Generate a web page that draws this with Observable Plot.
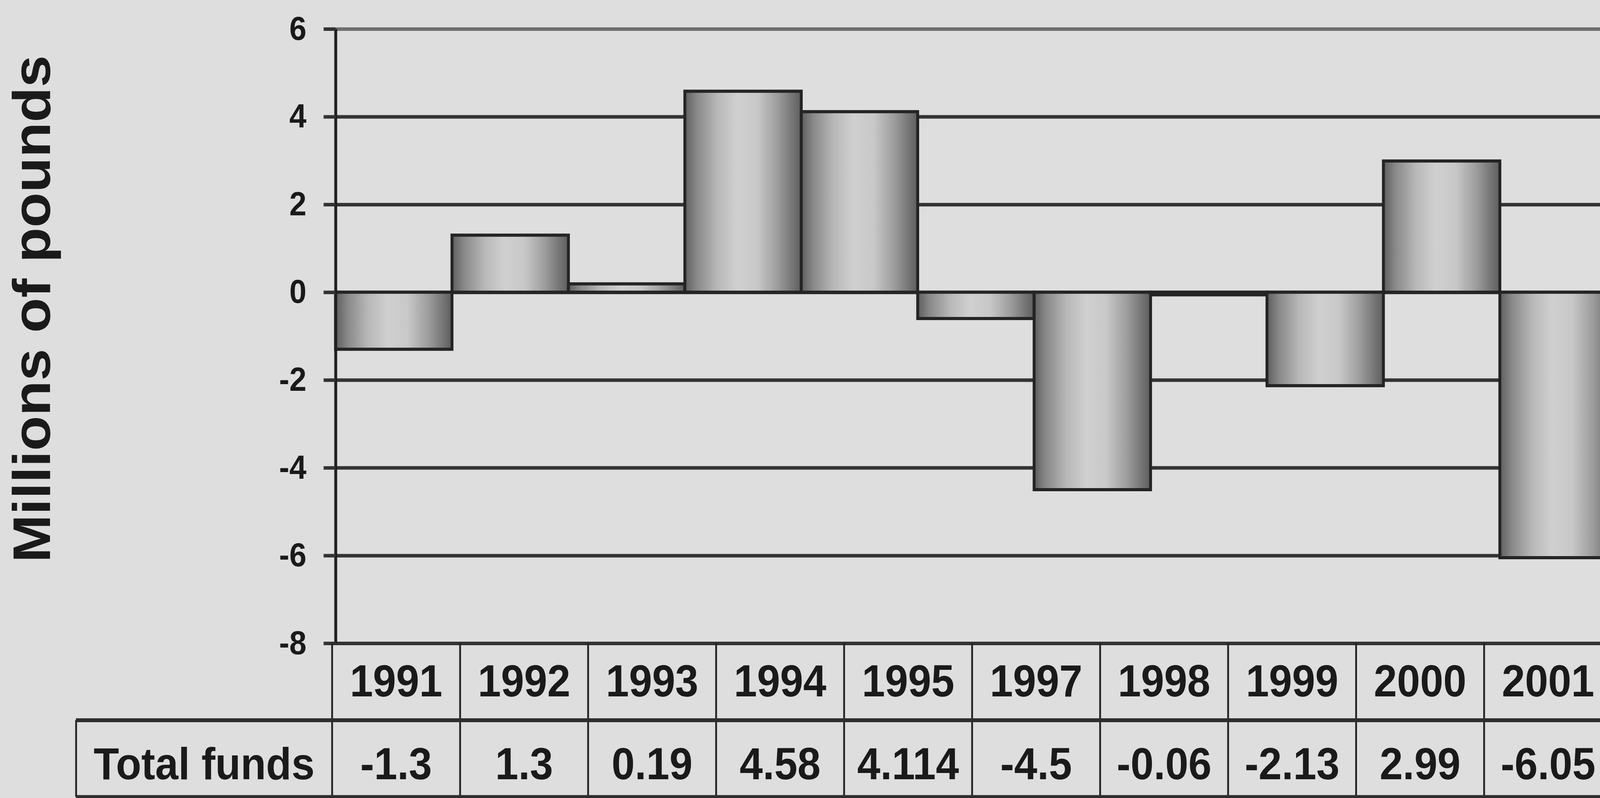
<!DOCTYPE html>
<html>
<head>
<meta charset="utf-8">
<script src="https://cdn.jsdelivr.net/npm/d3@7"></script>
<script src="https://cdn.jsdelivr.net/npm/@observablehq/plot@0.6"></script>
<style>
  html, body { margin: 0; padding: 0; background: #dedede; overflow: hidden; width: 100%; height: 100%; }
  #wrap { position: absolute; left: 0; top: 0; width: 4425px; height: 2042px; overflow: hidden; transform-origin: 0 0; }
  #chart { position: absolute; left: 0; top: 0; }
  #table { position: absolute; left: 0; top: 1646px; }
  svg { max-width: none !important; display: block; }
</style>
</head>
<body>
<div id="wrap"><div id="chart"></div><div id="table"></div></div>
<script>
// ---- data ----
const barYears = [1991, 1992, 1993, 1994, 1995, 1996, 1997, 1998, 1999, 2000, 2001];
const barValues = [-1.3, 1.3, 0.19, 4.58, 4.114, -0.6, -4.5, -0.06, -2.13, 2.99, -6.05];
const yTicks = [-8, -6, -4, -2, 0, 2, 4, 6];
const yLabel = "Millions of pounds";
const tableYears = ["1991", "1992", "1993", "1994", "1995", "1997", "1998", "1999", "2000", "2001"];
const tableValues = [-1.3, 1.3, 0.19, 4.58, 4.114, -4.5, -0.06, -2.13, 2.99, -6.05];
const rowLabel = "Total funds";

const FONT = "'Liberation Sans', Arial, Helvetica, sans-serif";
const INK = "#1a1a1a";
const GRID = "#333333";

const bars = barYears.map((year, i) => ({year, i, value: barValues[i]}));
const cols = tableYears.map((year, i) => ({year, i, value: tableValues[i]}));

// ---- main chart (the last bar runs past the right edge, as in the scan) ----
const chart = Plot.plot({
  width: 4425,
  height: 1700,
  marginLeft: 928,
  marginRight: 0,
  marginTop: 74,
  marginBottom: 54,
  style: {background: "transparent", fontFamily: FONT, color: INK, maxWidth: "none", overflow: "hidden"},
  x: {domain: [0, barYears.length], range: [928, 4470], axis: null},
  y: {domain: [-8, 6], axis: null},
  marks: [
    Plot.ruleY(yTicks.filter(d => d < 6), {stroke: GRID, strokeWidth: 9}),
    Plot.ruleY(yTicks.filter(d => d === 6), {stroke: "#6e6e6e", strokeWidth: 9}),
    Plot.rect(bars, {
      x1: "i", x2: d => d.i + 1, y1: 0, y2: "value",
      fill: "url(#cyl)", stroke: "#242424", strokeWidth: 8
    }),
    Plot.ruleX([0], {y1: -8, y2: 6, stroke: "#202020", strokeWidth: 8}),
    Plot.axisY({
      ticks: yTicks, tickSize: 33, tickPadding: 48, tickFormat: d => String(d),
      fontSize: 85, fontWeight: "bold", stroke: GRID, fill: INK, strokeWidth: 9, label: null
    }),
    Plot.text([yLabel], {
      frameAnchor: "left", textAnchor: "middle", rotate: -90, dx: -837, dy: -70,
      fontSize: 147, fontWeight: "bold", fill: INK
    })
  ]
});

// cylinder-like shading for the bars
const svg = d3.select(chart);
const grad = svg.insert("defs", ":first-child").append("linearGradient")
  .attr("id", "cyl").attr("x1", "0").attr("x2", "1").attr("y1", "0").attr("y2", "0");
[[0, "#5e5e5e"], [0.1, "#888"], [0.28, "#b8b8b8"], [0.45, "#d0d0d0"], [0.62, "#c8c8c8"],
 [0.8, "#9c9c9c"], [0.92, "#767676"], [1, "#5e5e5e"]]
  .forEach(([o, c]) => grad.append("stop").attr("offset", o).attr("stop-color", c));

document.getElementById("chart").appendChild(chart);

// ---- data table below ----
const table = Plot.plot({
  width: 4425,
  height: 396,
  marginLeft: 210,
  marginRight: 0,
  marginTop: 0,
  marginBottom: 3,
  style: {background: "transparent", fontFamily: FONT, color: INK, maxWidth: "none", overflow: "hidden"},
  x: {domain: [-2, tableYears.length], range: [210, 4458], axis: null},
  y: {domain: [0, 2], reverse: true, axis: null},
  marks: [
    Plot.ruleX(d3.range(0, tableYears.length + 1), {y1: 0, y2: 2, stroke: "#222", strokeWidth: 5}),
    Plot.ruleX([-2], {y1: 1, y2: 2, stroke: "#222", strokeWidth: 5}),
    Plot.ruleY([1, 2], {x1: -2, x2: tableYears.length, stroke: "#2e2e2e", strokeWidth: 10}),
    Plot.text(cols, {x: d => d.i + 0.5, y: 0.5, text: "year", fontSize: 115, fontWeight: "bold", fill: INK}),
    Plot.text(cols, {x: d => d.i + 0.5, y: 1.5, dy: 16, text: d => String(d.value), fontSize: 115, fontWeight: "bold", fill: INK}),
    Plot.text([rowLabel], {x: -1, y: 1.5, dy: 16, fontSize: 115, fontWeight: "bold", fill: INK})
  ]
});
document.getElementById("table").appendChild(table);

// fit the 4425×2042 layout to the actual viewport
function fit() {
  const w = window.innerWidth || 4425, h = window.innerHeight || 2042;
  document.getElementById("wrap").style.transform = `scale(${w / 4425}, ${h / 2042})`;
}
fit();
window.addEventListener("resize", fit);
</script>
</body>
</html>
